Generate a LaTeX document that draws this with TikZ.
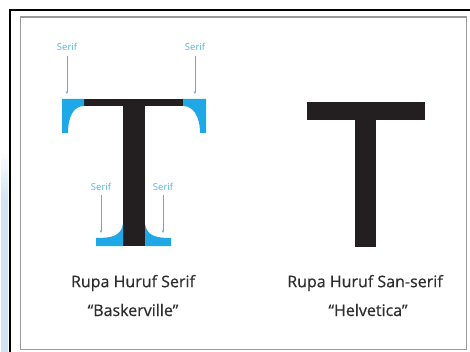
\documentclass[tikz,border=0pt]{standalone}
\usepackage{fontspec}
\setmainfont{Open Sans}
\newfontfamily\captionfont[FakeBold=0.6]{Open Sans}
\usetikzlibrary{arrows.meta}
\definecolor{serifblue}{HTML}{1EA8E6}
\definecolor{notecol}{HTML}{4FB4E0}
\definecolor{inkgray}{HTML}{2E2E2E}
\definecolor{glyph}{HTML}{231F20}
\definecolor{stripblue}{HTML}{D2E3F2}
\tikzset{
  x=1pt, y=-1pt,
  note/.style={font=\fontsize{9.5}{10}\selectfont, text=notecol, inner sep=1pt},
  pointer/.style={draw=notecol, line width=0.5pt, -{Stealth[length=3pt,width=2.5pt]}},
  caption/.style={font=\captionfont\fontsize{16}{18}\selectfont, text=inkgray, inner sep=0pt},
  serifpart/.style={fill=serifblue},
  glyphpart/.style={fill=glyph},
}
\begin{document}
\begin{tikzpicture}
  % page
  \fill[white] (0,0) rectangle (470,352);
  \useasboundingbox (0,0) rectangle (470,352);
  % pale strip on the left edge
  \shade[top color=white, bottom color=stripblue] (1,150) rectangle (8,200);
  \fill[stripblue] (1,200) rectangle (8,352);
  % outer black frame
  \draw[black, line width=2pt] (9.5,352) -- (9.5,10.5) -- (470,10.5);
  % inner grey frame
  \draw[gray!80, line width=1.6pt] (20.5,17) rectangle (466.5,349.5);

  % ---- serif T ----
  % top bar and stem
  \fill[glyphpart] (84,99) rectangle (183,106);
  \fill[glyphpart] (123,106) rectangle (145,246);
  % top serifs
  \fill[serifpart] (62,99) -- (84,99) -- (84,106)
     .. controls (74,106) and (68,116) .. (68,133) -- (62,133) -- cycle;
  \fill[serifpart] (206,99) -- (183,99) -- (183,106)
     .. controls (193,106) and (200,116) .. (200,133) -- (206,133) -- cycle;
  % foot serifs
  \fill[serifpart] (96,246) -- (123,246) -- (123,224)
     .. controls (121,236) and (112,238) .. (96,238) -- cycle;
  \fill[serifpart] (171,246) -- (145,246) -- (145,224)
     .. controls (147,236) and (156,238) .. (171,238) -- cycle;

  % serif labels and pointers
  \node[note] (s1) at (67,47) {Serif};
  \node[note] (s2) at (195,47) {Serif};
  \node[note] (s3) at (101,187) {Serif};
  \node[note] (s4) at (163,187) {Serif};
  \coordinate (p1) at (67,94);
  \coordinate (p2) at (195,94);
  \coordinate (p3) at (101,233);
  \coordinate (p4) at (163,233);
  \draw[pointer] (s1.south) ++(0,4) -- (p1);
  \draw[pointer] (s2.south) ++(0,4) -- (p2);
  \draw[pointer] (s3.south) ++(0,3) -- (p3);
  \draw[pointer] (s4.south) ++(0,3) -- (p4);

  % ---- sans-serif T ----
  \fill[glyphpart] (307,102) rectangle (425,120);
  \fill[glyphpart] (355,120) rectangle (376,247);

  % captions
  \node[caption] (c1) at (133,283) {Rupa Huruf Serif};
  \node[caption] (c2) at (133,310) {“Baskerville”};
  \node[caption] (c3) at (365,283) {Rupa Huruf San-serif};
  \node[caption] (c4) at (368,310) {“Helvetica”};
\end{tikzpicture}
\end{document}
